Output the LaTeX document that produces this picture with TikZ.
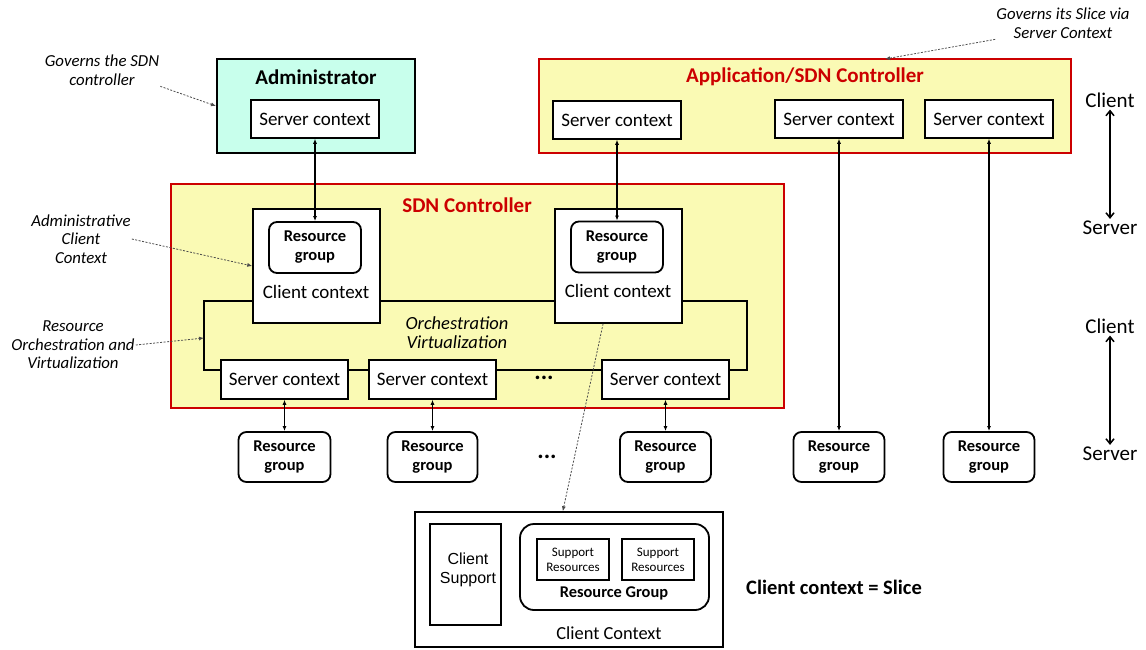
\documentclass[tikz,border=0pt]{standalone}
\usepackage{fontspec}
\setmainfont{Carlito}
\newfontfamily\arialfont{Liberation Sans}
\usetikzlibrary{arrows.meta,calc}
\definecolor{ctrlred}{RGB}{204,0,0}
\definecolor{ctrlfill}{RGB}{250,250,180}
\definecolor{admfill}{RGB}{200,255,236}
\begin{document}
\begin{tikzpicture}[x=1pt,y=-1pt,
    box/.style={draw, line width=1.5pt, fill=white, inner sep=0pt,
      font=\fontsize{19}{22}\selectfont},
    rgbox/.style={draw, rounded corners=8pt, line width=1.8pt, fill=white,
      inner sep=0pt, align=center, font=\bfseries\fontsize{16.5}{19}\selectfont},
    ctrl/.style={draw=ctrlred, line width=2pt, fill=ctrlfill},
    heading/.style={font=\bfseries\fontsize{21}{24}\selectfont},
    plain/.style={font=\fontsize{19}{22}\selectfont},
    dotsym/.style={font=\bfseries\fontsize{24}{24}\selectfont, inner sep=0pt},
    note/.style={font=\itshape\fontsize{16.8}{18.5}\selectfont, align=center, inner sep=1pt},
    side/.style={font=\fontsize{21}{24}\selectfont, inner sep=2pt},
    link/.style={{Latex[length=5pt,width=4pt]}-{Latex[length=5pt,width=4pt]}, line width=1.2pt},
    updown/.style={{Straight Barb[length=5pt,width=8pt]}-{Straight Barb[length=5pt,width=8pt]}, line width=1.5pt},
    hint/.style={-{Latex[length=5pt,width=4pt]}, dash pattern=on 2pt off 1.5pt,
      draw=gray!60!black, line width=0.8pt}]
  \useasboundingbox (0,0) rectangle (1146,649);

  % administrator
  \node (adm) at (316,106) [ctrl, draw=black, fill=admfill, minimum width=198, minimum height=94] {};
  \node (admtitle) at (316,77) [heading] {Administrator};
  \node (admsc) at (315,119) [box, minimum width=128, minimum height=38] {Server context};

  % application / sdn controller
  \node (app) at (805,106) [ctrl, minimum width=532, minimum height=94] {};
  \node (apptitle) at (805,77) [heading, text=ctrlred] {Application/SDN Controller};
  \node (appsc1) at (617,120) [box, minimum width=128, minimum height=38] {Server context};
  \node (appsc2) at (839,119) [box, minimum width=128, minimum height=38] {Server context};
  \node (appsc3) at (989,119) [box, minimum width=128, minimum height=38] {Server context};

  % sdn controller
  \node (sdn) at (477.5,296) [ctrl, minimum width=613, minimum height=224] {};
  \node (sdntitle) at (467,205) [heading, text=ctrlred] {SDN Controller};

  \coordinate (otl) at (204,301);
  \coordinate (obr) at (747,370);
  \coordinate (orchin) at (204,338);

  \node (cc1) at (316.5,266) [box, minimum width=127, minimum height=114] {};
  \node (rg1) at (315,247.5) [rgbox, minimum width=92, minimum height=51] {Resource\\group};
  \node (cc1txt) at (316,292) [plain] {Client context};
  \node (cc2) at (618.5,266) [box, minimum width=127, minimum height=114] {};
  \node (rg2) at (617,247) [rgbox, minimum width=92, minimum height=51] {Resource\\group};
  \node (cc2txt) at (618,291) [plain] {Client context};

  \node (orchtxt) at (457,333) [align=center, font=\itshape\fontsize{18.5}{19}\selectfont] {Orchestration\\Virtualization};

  \node (sc1) at (284.5,379.5) [box, minimum width=127, minimum height=39] {Server context};
  \node (sc2) at (432.5,379.5) [box, minimum width=127, minimum height=39] {Server context};
  \node (sc3) at (665.5,379.5) [box, minimum width=127, minimum height=39] {Server context};
  \node (scdots) at (544,378) [dotsym] {...};

  \draw[line width=1.5pt] (cc1.west |- otl) -- (otl) |- (sc1.west |- obr);
  \draw[line width=1.5pt] (cc1.east |- otl) -- (cc2.west |- otl);
  \draw[line width=1.5pt] (sc1.east |- obr) -- (sc2.west |- obr);
  \draw[line width=1.5pt] (sc2.east |- obr) -- (sc3.west |- obr);
  \draw[line width=1.5pt] (sc3.east |- obr) -- (obr) |- (cc2.east |- otl);

  % resource groups
  \node (rgb1) at (284.5,457) [rgbox, minimum width=92, minimum height=50] {Resource\\group};
  \node (rgb2) at (432.5,457) [rgbox, minimum width=90, minimum height=50] {Resource\\group};
  \node (rgb3) at (665.5,457) [rgbox, minimum width=91, minimum height=50] {Resource\\group};
  \node (rgb4) at (839,457) [rgbox, minimum width=91, minimum height=50] {Resource\\group};
  \node (rgb5) at (989,457) [rgbox, minimum width=91, minimum height=50] {Resource\\group};
  \node (rgdots) at (547,457) [dotsym] {...};

  \draw[link] (admsc.south) -- (rg1.north);
  \draw[link] (appsc1.south) -- (rg2.north);
  \draw[link] (sc1.south) -- (rgb1.north);
  \draw[link] (sc2.south) -- (rgb2.north);
  \draw[link] (sc3.south) -- (rgb3.north);
  \draw[link] (appsc2.south) -- (rgb4.north);
  \draw[link] (appsc3.south) -- (rgb5.north);

  % client context detail
  \node (slice) at (569,579.5) [box, minimum width=308, minimum height=135] {};
  \node (csup) at (465.5,574.5) [box, minimum width=71, minimum height=101] {};
  \node (csuptxt) at (468,569.5) [align=center, inner sep=0pt,
    font=\arialfont\fontsize{16}{19}\selectfont] {Client\\Support};
  \node (rgbig) at (614.5,567) [rgbox, rounded corners=14pt, minimum width=189, minimum height=86] {};
  \node (sr1) at (573,559.5) [box, minimum width=72, minimum height=41, align=center,
    font=\fontsize{13}{15}\selectfont] {Support\\Resources};
  \node (sr2) at (658,559.5) [box, minimum width=72, minimum height=41, align=center,
    font=\fontsize{13}{15}\selectfont] {Support\\Resources};
  \node (rgbigtxt) at (614,593) [font=\bfseries\fontsize{16.4}{19}\selectfont] {Resource Group};
  \node (slicetxt) at (609,633) [font=\fontsize{18.4}{22}\selectfont] {Client Context};
  \node (eqn) at (834,587) [font=\bfseries\fontsize{20.5}{24}\selectfont] {Client context = Slice};

  % client / server
  \node (cl1) at (1110,100) [side] {Client};
  \node (sv1) at (1110,228) [side] {Server};
  \node (cl2) at (1110,326) [side] {Client};
  \node (sv2) at (1110,454) [side] {Server};
  \draw[updown] (cl1.south) -- (sv1.north);
  \draw[updown] (cl2.south) -- (sv2.north);

  % notes
  \node (govadm) at (102,70) [note] {Governs the SDN\\controller};
  \node (admctx) at (81,239) [note] {Administrative\\Client\\Context};
  \node (orchnote) at (73,345) [note] {Resource\\Orchestration and\\Virtualization};
  \node (govslice) at (1063,23) [note] {Governs its Slice via\\Server Context};
  \coordinate (slicein) at (885,59);

  \draw[hint] (govadm.south east) -- (adm.west);
  \draw[hint] (admctx.east) -- (cc1.west);
  \draw[hint] (orchnote.east) -- (orchin);
  \draw[hint] (govslice.south west) -- (slicein);
  \draw[hint] ($(cc2.south west)!0.38!(cc2.south east)$) -- ($(slice.north west)!0.48!(slice.north east)$);
\end{tikzpicture}
\end{document}
